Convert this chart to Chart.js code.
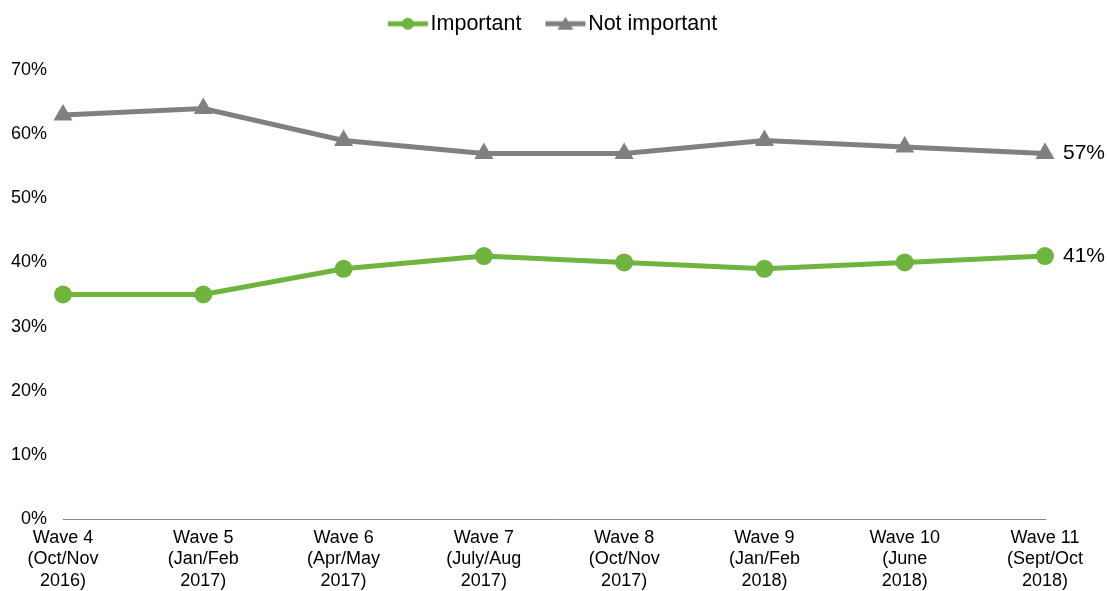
<!DOCTYPE html>
<html>
<head>
<meta charset="utf-8">
<script src="https://cdn.jsdelivr.net/npm/chart.js@4/dist/chart.umd.min.js"></script>
<style>
    html, body { margin: 0; padding: 0; background: #fff; }
    #wrap { width: 1107px; height: 591px; position: relative; }
</style>
</head>
<body>
<div id="wrap"><canvas id="lineChart"></canvas></div>
<script>
const waveLabels = [
    ['Wave 4', '(Oct/Nov', '2016)'],
    ['Wave 5', '(Jan/Feb', '2017)'],
    ['Wave 6', '(Apr/May', '2017)'],
    ['Wave 7', '(July/Aug', '2017)'],
    ['Wave 8', '(Oct/Nov', '2017)'],
    ['Wave 9', '(Jan/Feb', '2018)'],
    ['Wave 10', '(June', '2018)'],
    ['Wave 11', '(Sept/Oct', '2018)']
];
const important = [35, 35, 39, 41, 40, 39, 40, 41];
const notImportant = [63, 64, 59, 57, 57, 59, 58, 57];
const yMin = 0;
const yMax = 70;
const yStep = 10;

const GREEN = '#6fb43f';
const GREY = '#808080';
const FONT = "'Liberation Sans', Arial, sans-serif";

// line-with-marker swatch for the legend; the swatch sits right of the
// canvas centre so it ends just before the label text
function legendSwatch(color, shape) {
    const c = document.createElement('canvas');
    c.width = 62;
    c.height = 16;
    const g = c.getContext('2d');
    const x0 = 21, x1 = 61, mid = 41;
    g.strokeStyle = color;
    g.fillStyle = color;
    g.lineWidth = 5;
    g.beginPath();
    g.moveTo(x0, 8);
    g.lineTo(x1, 8);
    g.stroke();
    g.beginPath();
    if (shape === 'circle') {
        g.arc(mid, 8, 6, 0, Math.PI * 2);
    } else {
        g.moveTo(mid, 1);
        g.lineTo(mid + 8, 14);
        g.lineTo(mid - 8, 14);
        g.closePath();
    }
    g.fill();
    return c;
}

// value label to the right of the last point of each line
const endLabels = {
    id: 'endLabels',
    afterDatasetsDraw(chart) {
        const ctx = chart.ctx;
        ctx.save();
        ctx.font = '21px ' + FONT;
        ctx.fillStyle = '#000';
        ctx.textAlign = 'left';
        ctx.textBaseline = 'middle';
        chart.data.datasets.forEach((ds, i) => {
            const pts = chart.getDatasetMeta(i).data;
            const last = pts[pts.length - 1];
            ctx.fillText(ds.data[ds.data.length - 1] + '%', last.x + 18, last.y);
        });
        ctx.restore();
    }
};

// leave room between the legend and the plot
const legendGap = {
    id: 'legendGap',
    beforeLayout(chart) {
        const legend = chart.legend;
        if (!legend || legend._gapped) return;
        const fit = legend.fit;
        legend.fit = function () {
            fit.call(this);
            this.height = 69;
        };
        legend._gapped = true;
    }
};

const ctx = document.getElementById('lineChart').getContext('2d');
new Chart(ctx, {
    type: 'line',
    data: {
        labels: waveLabels,
        datasets: [{
            label: 'Important',
            data: important,
            borderColor: GREEN,
            backgroundColor: GREEN,
            borderWidth: 5,
            pointStyle: 'circle',
            pointRadius: 9,
            pointHoverRadius: 9,
            pointBorderWidth: 0,
            tension: 0
        }, {
            label: 'Not important',
            data: notImportant,
            borderColor: GREY,
            backgroundColor: GREY,
            borderWidth: 5,
            pointStyle: 'triangle',
            pointRadius: 11,
            pointHoverRadius: 11,
            pointBorderWidth: 0,
            tension: 0
        }]
    },
    options: {
        responsive: true,
        maintainAspectRatio: false,
        animation: false,
        layout: { padding: { top: 1, right: 14, bottom: 0, left: 0 } },
        plugins: {
            legend: {
                position: 'top',
                labels: {
                    usePointStyle: true,
                    pointStyleWidth: 44,
                    font: { family: FONT, size: 21.5 },
                    color: '#000',
                    padding: 12,
                    generateLabels(chart) {
                        return chart.data.datasets.map((ds, i) => ({
                            text: ds.label,
                            pointStyle: legendSwatch(ds.borderColor, i === 0 ? 'circle' : 'triangle'),
                            fillStyle: ds.borderColor,
                            strokeStyle: ds.borderColor,
                            lineWidth: 0,
                            hidden: false,
                            datasetIndex: i,
                            fontColor: '#000'
                        }));
                    }
                }
            },
            tooltip: { enabled: false }
        },
        scales: {
            x: {
                offset: false,
                grid: { display: false, drawTicks: false },
                border: { display: true, color: '#888', width: 1 },
                // fixed label band; room on the right for the end labels
                afterFit(scale) {
                    scale.height = 72;
                    scale.paddingRight = 62;
                },
                ticks: {
                    color: '#000',
                    font: { family: FONT, size: 18, lineHeight: 1.2 },
                    padding: 8,
                    maxRotation: 0,
                    autoSkip: false
                }
            },
            y: {
                min: yMin,
                max: yMax,
                grid: { display: false, drawTicks: false },
                border: { display: false },
                afterFit(scale) { scale.width = 63; },
                ticks: {
                    stepSize: yStep,
                    color: '#000',
                    font: { family: FONT, size: 18 },
                    padding: 16,
                    callback: v => v + '%'
                }
            }
        }
    },
    plugins: [endLabels, legendGap]
});
</script>
</body>
</html>
